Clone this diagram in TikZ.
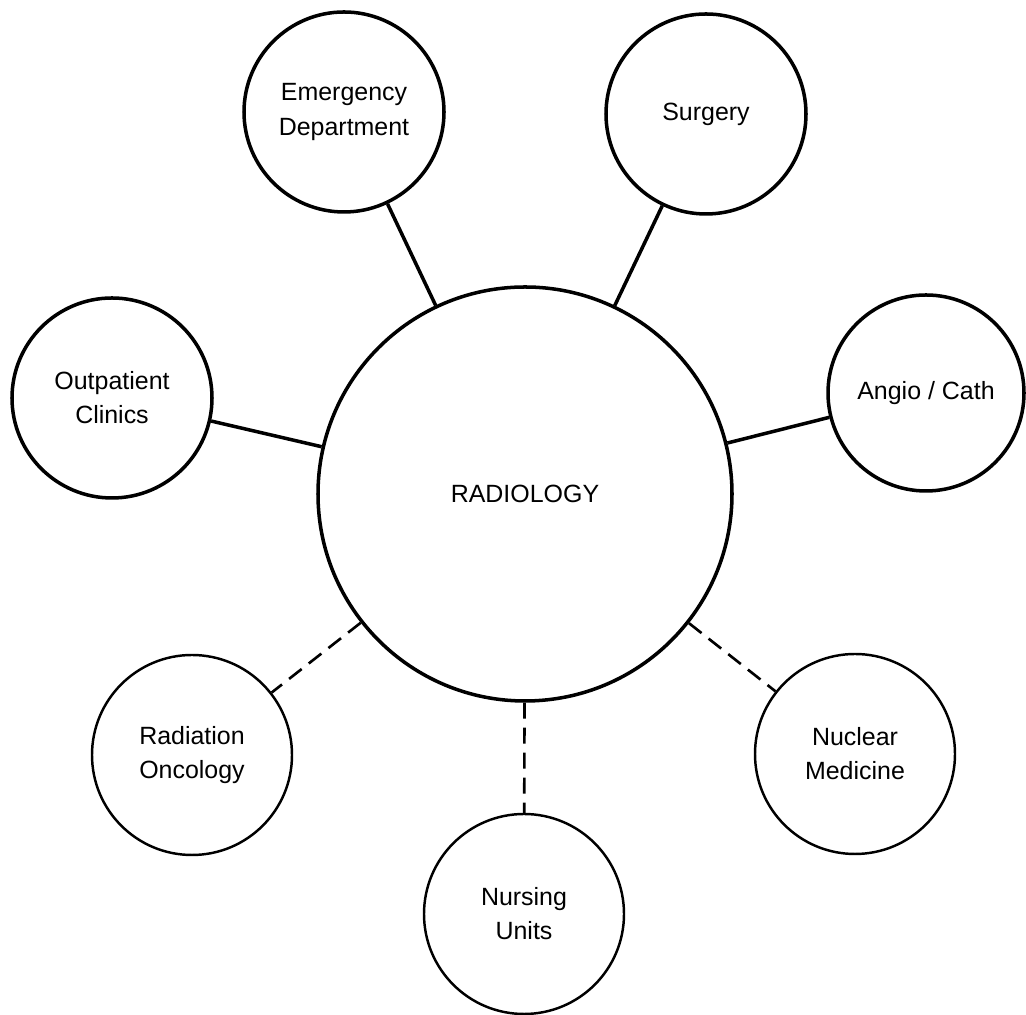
\documentclass[tikz,border=0pt]{standalone}
\usepackage{fontspec}
\setmainfont{Liberation Sans}
\begin{document}
\begin{tikzpicture}[
  dept/.style={draw,circle,minimum size=4cm,align=center,inner sep=0pt,
    font=\fontsize{14.2}{19.4}\selectfont},
  every node/.style={dept},
  hub/.style={minimum size=8.28cm},
  tight/.style={line width=2pt},
  loose/.style={line width=1.4pt},
  solid_link/.style={line width=2pt},
  dashed_link/.style={line width=1.5pt, dash pattern=on 0.32cm off 0.18cm}
  ]
	\useasboundingbox (0,0) rectangle (20.52,20.30);

	\node[hub,tight] (rad) at (10.50,10.42) {RADIOLOGY};

	\node[tight] (ed) at (6.88,18.06) {Emergency\\Department};
	\node[tight] (surg) at (14.12,18.02) {Surgery};
	\node[tight] (opc) at (2.24,12.34) {Outpatient\\Clinics};
	\node[tight,minimum size=3.92cm] (angio) at (18.52,12.44) {Angio / Cath};

	\node[loose] (onc) at (3.84,5.20) {Radiation\\Oncology};
	\node[loose] (nm) at (17.10,5.22) {Nuclear\\Medicine};
	\node[loose] (nurse) at (10.48,2.02) {Nursing\\Units};

	\draw[solid_link] (rad) -- (ed);
	\draw[solid_link] (rad) -- (surg);
	\draw[solid_link] (rad) -- (opc);
	\draw[solid_link] (rad) -- (angio);

	\draw[dashed_link] (rad) -- (onc);
	\draw[dashed_link] (rad) -- (nm);
	\draw[dashed_link] (rad) -- (nurse);
\end{tikzpicture}
\end{document}
